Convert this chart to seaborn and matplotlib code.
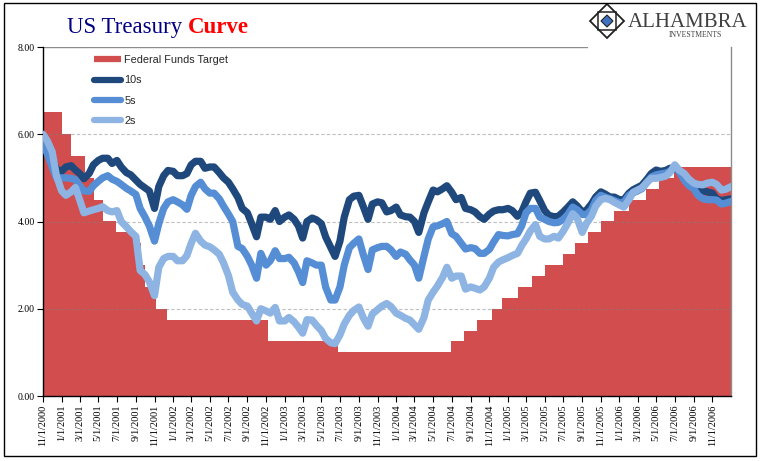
import numpy as np
import pandas as pd
import matplotlib
matplotlib.use('Agg')
import matplotlib.pyplot as plt
from matplotlib.lines import Line2D
from matplotlib.patches import Polygon, Rectangle
import seaborn as sns

# Colours (Excel-ish palette)
C_FF  = '#D24D4D'   # fed funds target area
C_10  = '#1F497D'   # 10s
C_5   = '#558ED5'   # 5s
C_2   = '#8DB4E2'   # 2s

# ---- data ---------------------------------------------------------------
# semi-monthly observations (1st and 15th), Nov 2000 .. Jan 2007
dates = pd.date_range('2000-11-01', '2007-01-01', freq='SMS')

y10 = ([5.75, 5.6, 5.45, 5.2] +
       [5.15, 5.25, 5.28, 5.18, 5.1, 4.98, 5.1, 5.3, 5.4, 5.45, 5.45, 5.33,
        5.4, 5.25, 5.12, 5.07, 4.95, 4.85, 4.77, 4.7, 4.3, 4.8, 5.05, 5.17] +
       [5.15, 5.05, 5.05, 5.1, 5.3, 5.38, 5.38, 5.22, 5.25, 5.25, 5.12, 5.0,
        4.9, 4.75, 4.55, 4.3, 4.2, 3.95, 3.65, 4.1, 4.1, 4.05, 4.25, 4.0] +
       [4.1, 4.15, 4.05, 3.9, 3.62, 4.0, 4.08, 4.04, 3.95, 3.65, 3.4, 3.2,
        3.55, 4.1, 4.5, 4.58, 4.6, 4.35, 4.05, 4.4, 4.45, 4.43, 4.22, 4.25] +
       [4.33, 4.15, 4.11, 4.1, 4.0, 3.75, 4.2, 4.45, 4.72, 4.68, 4.75, 4.82,
        4.67, 4.5, 4.55, 4.3, 4.27, 4.22, 4.11, 4.05, 4.17, 4.24, 4.27, 4.27] +
       [4.3, 4.25, 4.12, 4.22, 4.45, 4.65, 4.67, 4.48, 4.25, 4.14, 4.11, 4.12,
        4.22, 4.32, 4.45, 4.36, 4.22, 4.26, 4.4, 4.56, 4.68, 4.63, 4.56, 4.56] +
       [4.5, 4.5, 4.65, 4.73, 4.78, 4.83, 4.97, 5.1, 5.18, 5.15, 5.17, 5.22,
        5.22, 5.15, 5.05, 4.93, 4.83, 4.74, 4.7, 4.68, 4.65, 4.52, 4.48, 4.5] +
       [4.52])

y5 = ([5.8, 5.55, 5.25, 5.0] +
      [5.0, 5.0, 4.99, 4.96, 4.82, 4.7, 4.69, 4.82, 4.92, 5.0, 5.05, 4.97,
       4.92, 4.85, 4.76, 4.7, 4.62, 4.3, 4.1, 3.9, 3.55, 3.95, 4.3, 4.45] +
      [4.5, 4.45, 4.38, 4.28, 4.6, 4.8, 4.9, 4.75, 4.65, 4.65, 4.52, 4.35,
       4.17, 4.0, 3.43, 3.38, 3.2, 3.0, 2.7, 3.27, 3.0, 3.1, 3.33, 3.15] +
      [3.15, 3.18, 3.05, 2.85, 2.6, 3.1, 3.05, 3.0, 3.0, 2.5, 2.2, 2.2,
       2.5, 3.0, 3.4, 3.5, 3.6, 3.25, 2.9, 3.35, 3.4, 3.43, 3.43, 3.35] +
      [3.2, 3.3, 3.25, 3.12, 3.0, 2.7, 3.2, 3.6, 3.88, 3.9, 3.95, 4.0,
       3.72, 3.66, 3.5, 3.37, 3.4, 3.38, 3.27, 3.27, 3.36, 3.53, 3.7, 3.68] +
      [3.67, 3.7, 3.72, 3.9, 4.2, 4.3, 4.3, 4.1, 4.05, 4.0, 3.97, 3.98,
       4.05, 4.15, 4.33, 4.27, 4.16, 4.16, 4.27, 4.48, 4.6, 4.56, 4.52, 4.48] +
      [4.43, 4.44, 4.6, 4.66, 4.7, 4.75, 4.9, 5.02, 5.07, 5.09, 5.11, 5.15,
       5.25, 5.14, 4.95, 4.83, 4.75, 4.6, 4.52, 4.5, 4.5, 4.49, 4.4, 4.42] +
      [4.46])

y2 = ([6.0, 5.85, 5.6, 5.05] +
      [4.7, 4.6, 4.68, 4.78, 4.5, 4.2, 4.24, 4.27, 4.3, 4.34, 4.25, 4.22,
       4.25, 4.0, 3.88, 3.77, 3.66, 2.88, 2.78, 2.62, 2.3, 2.95, 3.15, 3.2] +
      [3.2, 3.1, 3.1, 3.22, 3.5, 3.73, 3.55, 3.46, 3.42, 3.35, 3.25, 3.05,
       2.76, 2.38, 2.2, 2.1, 2.06, 1.9, 1.72, 2.0, 1.95, 1.9, 2.03, 1.72] +
      [1.72, 1.8, 1.7, 1.58, 1.44, 1.75, 1.74, 1.62, 1.5, 1.32, 1.22, 1.2,
       1.4, 1.65, 1.85, 1.96, 2.04, 1.8, 1.6, 1.88, 1.98, 2.06, 2.12, 2.05] +
      [1.9, 1.85, 1.78, 1.74, 1.63, 1.53, 1.8, 2.2, 2.38, 2.52, 2.72, 2.95,
       2.7, 2.75, 2.75, 2.45, 2.5, 2.47, 2.43, 2.5, 2.7, 2.95, 3.07, 3.12] +
      [3.17, 3.22, 3.27, 3.45, 3.6, 3.78, 3.93, 3.66, 3.6, 3.6, 3.66, 3.62,
       3.78, 3.95, 4.18, 4.08, 3.75, 3.96, 4.12, 4.35, 4.5, 4.53, 4.5, 4.44] +
      [4.38, 4.33, 4.5, 4.67, 4.72, 4.77, 4.9, 4.99, 4.99, 5.01, 5.04, 5.12,
       5.3, 5.18, 5.1, 4.98, 4.88, 4.85, 4.84, 4.88, 4.9, 4.85, 4.72, 4.74] +
      [4.8])

# Federal funds target: change dates and new levels
ff_dates = pd.to_datetime([
    '2000-11-01', '2001-01-03', '2001-01-31', '2001-03-20', '2001-04-18',
    '2001-05-15', '2001-06-27', '2001-08-21', '2001-09-17', '2001-10-02',
    '2001-11-06', '2001-12-11', '2002-11-06', '2003-06-25', '2004-06-30',
    '2004-08-10', '2004-09-21', '2004-11-10', '2004-12-14', '2005-02-02',
    '2005-03-22', '2005-05-03', '2005-06-30', '2005-08-09', '2005-09-20',
    '2005-11-01', '2005-12-13', '2006-01-31', '2006-03-28', '2006-05-10',
    '2006-06-29', '2007-01-01'])
ff_rates = [6.5, 6.0, 5.5, 5.0, 4.5, 4.0, 3.75, 3.5, 3.0, 2.5, 2.0, 1.75,
            1.25, 1.0, 1.25, 1.5, 1.75, 2.0, 2.25, 2.5, 2.75, 3.0, 3.25,
            3.5, 3.75, 4.0, 4.25, 4.5, 4.75, 5.0, 5.25, 5.25]

tick_dates = pd.date_range('2000-11-01', '2006-11-01', freq='2MS')
tick_labels = [f'{d.month}/{d.day}/{d.year}' for d in tick_dates]
y_ticks = [0, 2, 4, 6, 8]

assert len(dates) == len(y10) == len(y5) == len(y2)

# ---- figure --------------------------------------------------------------
sns.set_theme(style='white')
plt.rcParams['font.family'] = ['Liberation Serif', 'DejaVu Serif']

W, H = 769, 461
fig = plt.figure(figsize=(W / 100, H / 100), dpi=100)
ax = fig.add_axes([43 / W, 1 - 396 / H, 688 / W, 349 / H])

ax.fill_between(ff_dates, ff_rates, step='post', color=C_FF, lw=0, zorder=1)

for yy in [2, 4, 6]:
    ax.axhline(yy, color='#7F7F7F', alpha=0.5, lw=0.8, ls=(0, (3, 2)), zorder=2)
ax.axhline(8, xmin=0, xmax=0.79, color='#8C8C8C', lw=1.0, zorder=2)

for vals, clr, z in [(y10, C_10, 3), (y5, C_5, 4), (y2, C_2, 5)]:
    sns.lineplot(x=dates, y=vals, ax=ax, color=clr, linewidth=5.2,
                 estimator=None, legend=False, zorder=z,
                 solid_capstyle='round', solid_joinstyle='round')

ax.set_xlim(pd.Timestamp('2000-11-01'), pd.Timestamp('2007-01-01'))
ax.set_ylim(0, 8)
ax.set_yticks(y_ticks)
ax.set_yticklabels([f'{v:.2f}' for v in y_ticks], fontsize=7)
ax.set_xticks(tick_dates)
ax.set_xticklabels(tick_labels, rotation=90, fontsize=7.5)
ax.set_xlabel('')
ax.set_ylabel('')
ax.tick_params(axis='both', direction='out', length=4, width=0.8, pad=2,
               colors='black', left=True, bottom=True)

ax.spines['top'].set_visible(False)
ax.spines['left'].set_color('black')
ax.spines['bottom'].set_color('black')
ax.spines['right'].set_color('#8C8C8C')
for s in ['left', 'bottom', 'right']:
    ax.spines[s].set_linewidth(1.0)

handles = [
    Line2D([], [], color=C_FF, lw=4.5, solid_capstyle='butt'),
    Line2D([], [], color=C_10, lw=4.5, solid_capstyle='round'),
    Line2D([], [], color=C_5, lw=4.5, solid_capstyle='round'),
    Line2D([], [], color=C_2, lw=4.5, solid_capstyle='round'),
]
leg = ax.legend(handles, ['Federal Funds Target', '10s', '5s', '2s'],
                loc='upper left', bbox_to_anchor=(0.06, 1.005), frameon=False,
                handlelength=2.5, handletextpad=0.3, labelspacing=0.95,
                prop={'family': 'Liberation Sans', 'size': 7.8})

# title
fig.text(67 / W, 1 - 33 / H, 'US Treasury', color='#000080', fontsize=16.5,
         va='baseline', ha='left', family='Liberation Serif')
fig.text(188 / W, 1 - 33 / H, 'Curve', color='#FF0000', fontsize=16.5,
         fontweight='bold', va='baseline', ha='left', family='Liberation Serif')

# logo
def fp(x, y):
    return (x / W, 1 - y / H)

cx, cy, r = 607, 21, 17
fig.add_artist(Polygon([fp(cx, cy - r), fp(cx + r, cy), fp(cx, cy + r), fp(cx - r, cy)],
                       closed=True, fill=False, ec='#222222', lw=1.3,
                       transform=fig.transFigure))
q = 9
fig.add_artist(Polygon([fp(cx - q, cy - q), fp(cx + q, cy - q), fp(cx + q, cy + q), fp(cx - q, cy + q)],
                       closed=True, fill=False, ec='#222222', lw=1.1,
                       transform=fig.transFigure))
s = 6
fig.add_artist(Polygon([fp(cx, cy - s), fp(cx + s, cy), fp(cx, cy + s), fp(cx - s, cy)],
                       closed=True, fc='#3F72C0', ec='#222222', lw=0.8,
                       transform=fig.transFigure))
fig.text(628 / W, 1 - 27 / H, 'ALHAMBRA', color='#404040', fontsize=15,
         va='baseline', ha='left', family='Liberation Serif')
fig.text(695 / W, 1 - 37 / H, 'INVESTMENTS', color='#404040', fontsize=5.5,
         va='baseline', ha='center', family='Liberation Serif')

# outer frame
fig.add_artist(Rectangle((4 / W, 1 - 456 / H), 752 / W, 453 / H, fill=False,
                         ec='black', lw=1.0, transform=fig.transFigure))

fig.savefig('out.png', dpi=100)
